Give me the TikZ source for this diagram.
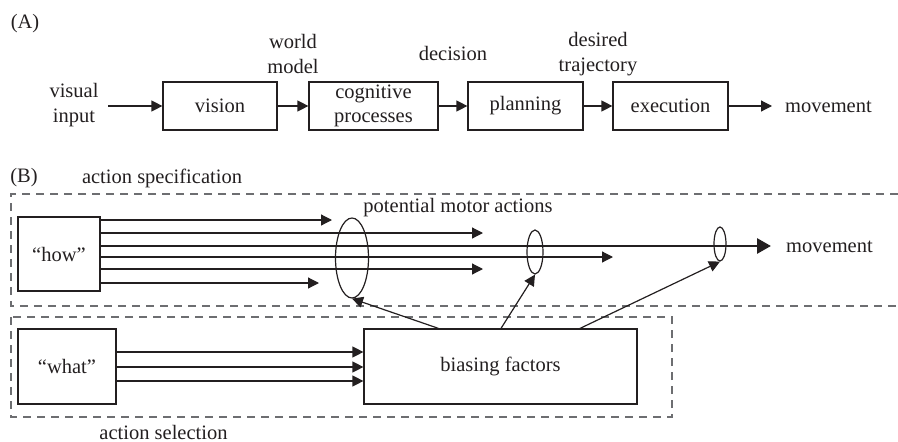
\documentclass[tikz,border=0pt]{standalone}
\usepackage{fontspec}
\setmainfont{Liberation Serif}
\usetikzlibrary{arrows.meta,shapes.geometric,calc}
\definecolor{ink}{HTML}{231F20}
\definecolor{dashc}{HTML}{6D6E71}
\begin{document}
\begin{tikzpicture}[x=1pt,y=-1pt,
  every node/.style={font=\fontsize{20.5}{24.6}\selectfont, text=ink},
  box/.style={draw=ink, line width=1.2pt, inner sep=0pt},
  oval/.style={draw=ink, line width=1.2pt, ellipse, inner sep=0pt},
  arr/.style={draw=ink, line width=1.2pt, -{Triangle[length=11pt,width=11pt]}},
  thickarr/.style={draw=ink, line width=2.8pt, -{Triangle[length=14pt,width=15pt]}},
  dbox/.style={draw=dashc, line width=1.2pt, dash pattern=on 8pt off 6pt},
  lbl/.style={align=center, inner sep=0pt}]
\useasboundingbox (0,0) rectangle (898,442);

% ---------------- (A) ----------------
\node[lbl] (la) at (25,24) {(A)};
\node[lbl] (vin) at (74,105) {visual\\input};
\node[box, minimum width=114pt, minimum height=48pt] (vision) at (220,106) {vision};
\node[box, minimum width=129pt, minimum height=48pt, align=center] (cog) at (373.5,106) {cognitive\\processes};
\node[box, minimum width=115pt, minimum height=48pt] (plan) at (525.5,106) {planning};
\node[box, minimum width=115pt, minimum height=48pt] (exec) at (670.5,106) {execution};
\node[lbl] (wm) at (293,54) {world\\model};
\node[lbl] (dec) at (453,53) {decision};
\node[lbl] (dt) at (598,54) {desired\\trajectory};
\node[lbl, anchor=west] (mova) at (785,107) {movement};
\coordinate (vs) at (108,106);
\coordinate (me) at (772,106);
\draw[arr] (vs) -- (vision);
\draw[arr] (vision) -- (cog);
\draw[arr] (cog) -- (plan);
\draw[arr] (plan) -- (exec);
\draw[arr] (exec) -- (me);

% ---------------- (B) ----------------
\node[lbl] (lb) at (24,178) {(B)};
\node[lbl] (aspec) at (162,178) {action specification};
\draw[dbox] (898,194) -- (11,194) -- (11,306) -- (898,306);
\draw[dbox] (11,317) rectangle (672,417);

\node[box, minimum width=82pt, minimum height=74pt] (how) at (59,254) {“how”};
\node[box, minimum width=98pt, minimum height=75pt] (what) at (67,366.5) {“what”};
\node[box, minimum width=273pt, minimum height=75pt] (bias) at (500.5,366.5) {biasing factors};

\node[oval, minimum width=33pt, minimum height=80pt] (e1) at (352,258) {};
\node[oval, minimum width=16pt, minimum height=44pt] (e2) at (535,252) {};
\node[oval, minimum width=12pt, minimum height=34pt] (e3) at (720,244) {};

\node[lbl] (pma) at (458,208) {potential motor actions};
\node[lbl, anchor=west] (movb) at (786,247) {movement};
\node[lbl] (asel) at (163.5,432) {action selection};

\coordinate (t1) at (332,220);
\coordinate (t2) at (483,233);
\coordinate (t3) at (771,246);
\coordinate (t4) at (613,257);
\coordinate (t5) at (483,269);
\coordinate (t6) at (319,283);
\draw[arr] ($(how.east)+(0,-34)$) -- (t1);
\draw[arr] ($(how.east)+(0,-21)$) -- (t2);
\draw[thickarr] ($(how.east)+(0,-8)$) -- (t3);
\draw[arr] ($(how.east)+(0,3)$) -- (t4);
\draw[arr] ($(how.east)+(0,15)$) -- (t5);
\draw[arr] ($(how.east)+(0,29)$) -- (t6);

\draw[arr] ($(what.east)+(0,-14.5)$) -- ($(bias.west)+(0,-14.5)$);
\draw[arr] ($(what.east)+(0,0.5)$) -- ($(bias.west)+(0,0.5)$);
\draw[arr] ($(what.east)+(0,14.5)$) -- ($(bias.west)+(0,14.5)$);

\coordinate (b1) at ($(bias.north)+(-62,0)$);
\coordinate (b2) at ($(bias.north)+(0.5,0)$);
\coordinate (b3) at ($(bias.north)+(79.5,0)$);
\draw[arr] (b1) -- (e1.south);
\draw[arr] (b2) -- (e2.south);
\draw[arr] (b3) -- (e3.south);
\end{tikzpicture}
\end{document}
